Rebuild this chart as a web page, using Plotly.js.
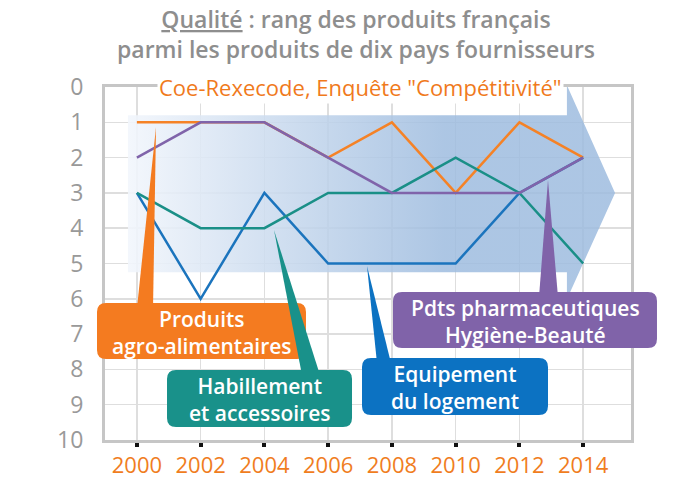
<!DOCTYPE html>
<html>
<head>
<meta charset="utf-8">
<script src="https://cdn.plot.ly/plotly-3.0.1.min.js"></script>
<style>
  html, body { margin: 0; padding: 0; background: #fff; }
  #chart { width: 695px; height: 483px; }
</style>
</head>
<body>
<div id="chart"></div>
<script>
// rang (1 = meilleur) parmi dix pays fournisseurs
const years = [2000, 2002, 2004, 2006, 2008, 2010, 2012, 2014];
const agro = [1, 1, 1, 2, 1, 3, 1, 2];
const equipement = [3, 6, 3, 5, 5, 5, 3, 2];
const habillement = [3, 4, 4, 3, 3, 2, 3, 5];
const pharma = [2, 1, 1, 2, 3, 3, 3, 2];
const rankTicks = [0, 1, 2, 3, 4, 5, 6, 7, 8, 9, 10];
const yearLabels = years.map(String);

const FONT = '"Open Sans", Lato, sans-serif';
const ORANGE = '#f47b20', TEAL = '#19918a', BLUE = '#0c72c2', PURPLE = '#8063a9';

// plot area in pixels, used to place the callouts in paper coords
const L = 105, R = 631, T = 87, B = 440;
const px = x => (x - L) / (R - L);
const py = y => (B - y) / (B - T);
const pt = (x, y) => `${px(x).toFixed(4)},${py(y).toFixed(4)}`;

const roundBox = (x0, y0, x1, y1, r) =>
  `M${pt(x0 + r, y0)} L${pt(x1 - r, y0)} Q${pt(x1, y0)} ${pt(x1, y0 + r)} ` +
  `L${pt(x1, y1 - r)} Q${pt(x1, y1)} ${pt(x1 - r, y1)} L${pt(x0 + r, y1)} ` +
  `Q${pt(x0, y1)} ${pt(x0, y1 - r)} L${pt(x0, y0 + r)} Q${pt(x0, y0)} ${pt(x0 + r, y0)} Z`;

const wedge = (bx0, bx1, by, tx, ty) =>
  `M${pt(bx0, by + 5)} L${pt(tx, ty)} L${pt(bx1, by + 5)} Z`;

const callouts = [
  { color: ORANGE, box: [97, 303, 306, 359], ptr: [137, 153, 303, 156, 127], lines: ['Produits', 'agro-alimentaires'] },
  { color: TEAL, box: [167, 370, 352, 427], ptr: [302, 320, 370, 274, 230], lines: ['Habillement', 'et accessoires'] },
  { color: BLUE, box: [362, 358, 548, 415], ptr: [377, 391, 358, 367, 266], lines: ['Equipement', 'du logement'] },
  { color: PURPLE, box: [393, 292, 657, 348], ptr: [539, 558, 292, 548, 180], lines: ['Pdts pharmaceutiques', 'Hygiène-Beauté'] }
];

const shapes = [];
const annotations = [];
callouts.forEach(c => {
  const [x0, y0, x1, y1] = c.box;
  shapes.push({ type: 'path', xref: 'paper', yref: 'paper', path: wedge(...c.ptr), fillcolor: c.color, line: { width: 0 } });
  shapes.push({ type: 'path', xref: 'paper', yref: 'paper', path: roundBox(x0, y0, x1, y1, 9), fillcolor: c.color, line: { width: 0 } });
  annotations.push({
    xref: 'paper', yref: 'paper', x: px((x0 + x1) / 2), y: py((y0 + y1) / 2 + 1),
    text: c.lines.join('<br>'), showarrow: false, xanchor: 'center', yanchor: 'middle',
    font: { family: FONT, size: 21, weight: 600, color: '#ffffff' }
  });
});

// titre + source
annotations.push(
  { xref: 'paper', yref: 'paper', x: px(356), y: py(34), align: 'center',
    text: '<u>Qualité</u> : rang des produits français<br>parmi les produits de dix pays fournisseurs',
    showarrow: false, xanchor: 'center', yanchor: 'middle', font: { family: FONT, size: 23, weight: 600, color: '#8e8e8e' } },
  { xref: 'paper', yref: 'paper', x: px(360), y: py(87), text: 'Coe-Rexecode, Enquête "Compétitivité"',
    showarrow: false, xanchor: 'center', yanchor: 'middle', bgcolor: '#ffffff', borderpad: 1,
    font: { family: FONT, size: 22, color: '#f07a1c' } }
);

// flèche de fond en dégradé
const arrowX = [1999.72, 2013.49, 2013.49, 2015.0, 2013.49, 2013.49, 1999.72, 1999.72];
const arrowY = [0.8, 0.8, -0.05, 3.0, 6.01, 5.25, 5.25, 0.8];

const line = (y, color) => ({
  x: years, y: y, type: 'scatter', mode: 'lines',
  line: { color: color, width: 2.5 }, hoverinfo: 'skip'
});

const data = [
  {
    x: arrowX, y: arrowY, type: 'scatter', mode: 'lines', fill: 'toself',
    line: { width: 0 }, hoverinfo: 'skip',
    fillgradient: {
      type: 'horizontal',
      colorscale: [[0, 'rgba(242,246,252,0.9)'], [0.65, 'rgba(158,188,223,0.85)'], [1, 'rgba(158,188,223,0.85)']]
    }
  },
  line(agro, '#f58226'),
  line(equipement, '#1b74bd'),
  line(habillement, '#1a8f87'),
  line(pharma, '#8064aa')
];

const layout = {
  width: 695, height: 483,
  margin: { l: L, r: 695 - R, t: T, b: 483 - B },
  paper_bgcolor: '#ffffff', plot_bgcolor: '#ffffff',
  showlegend: false, hovermode: false,
  font: { family: FONT },
  xaxis: {
    range: [1999, 2015.5], tickvals: years, ticktext: yearLabels,
    showgrid: true, gridcolor: '#dedede', gridwidth: 1.5,
    showline: true, mirror: true, linecolor: '#c6c6c6', linewidth: 3,
    ticks: 'outside', ticklen: 4, tickwidth: 4, tickcolor: '#111',
    tickfont: { family: FONT, size: 22, color: '#f07d1e' },
    zeroline: false, fixedrange: true
  },
  yaxis: {
    range: [10, 0], tickvals: rankTicks, ticktext: rankTicks.map(String),
    showgrid: true, gridcolor: '#dedede', gridwidth: 1.5,
    showline: true, mirror: true, linecolor: '#c6c6c6', linewidth: 3,
    ticks: '', ticklabelstandoff: 14,
    tickfont: { family: FONT, size: 23, color: '#999999' },
    zeroline: false, fixedrange: true
  },
  shapes: shapes,
  annotations: annotations
};

Plotly.newPlot('chart', data, layout, { displayModeBar: false, staticPlot: true });
</script>
</body>
</html>
